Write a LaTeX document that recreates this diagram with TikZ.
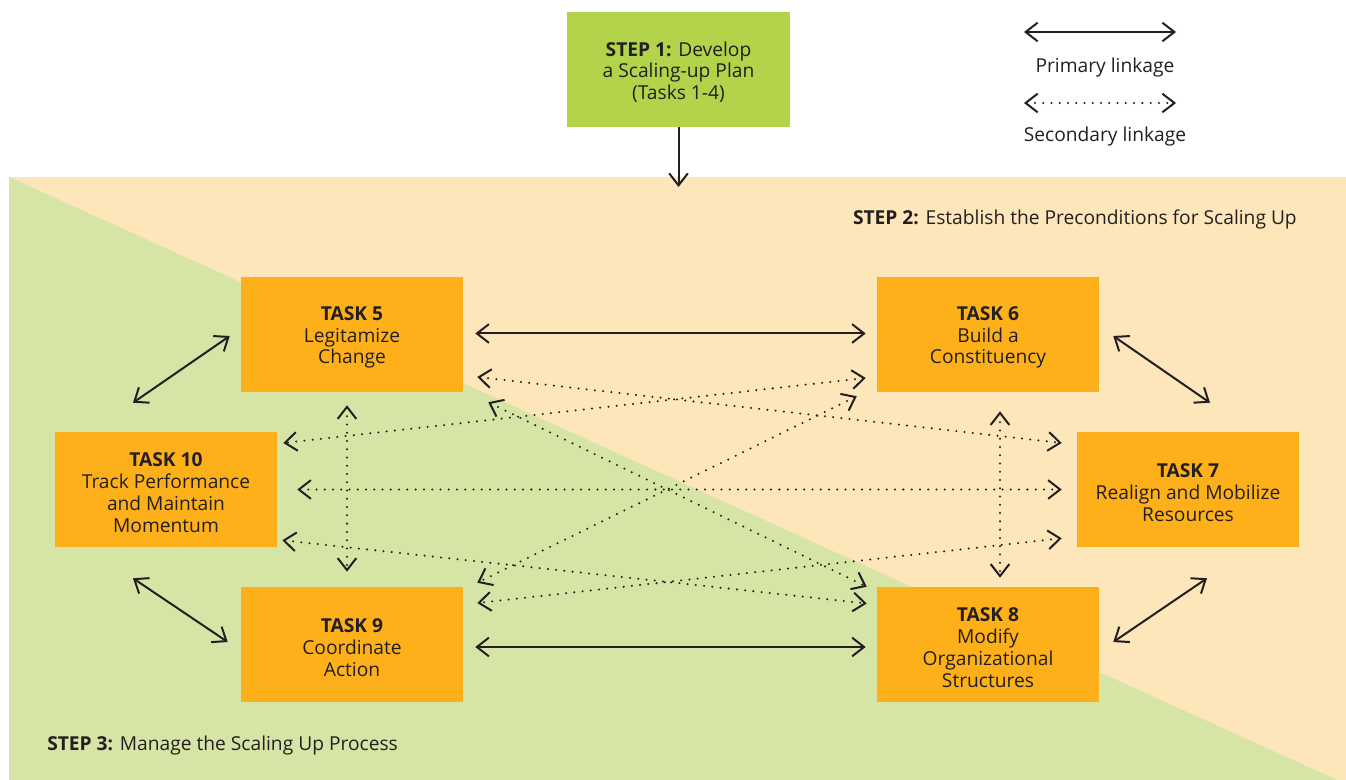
\documentclass[tikz,border=0pt]{standalone}
\usepackage{fontspec}
\setmainfont{Open Sans}
\usetikzlibrary{arrows.meta,calc}
\definecolor{ink}{HTML}{231F20}
\definecolor{taskorange}{HTML}{FDB01A}
\definecolor{stepgreen}{HTML}{B2D34A}
\definecolor{zonebeige}{HTML}{FDE7BA}
\definecolor{zonegreen}{HTML}{D6E5A6}
% extra room above the first line of a box, to sit the text a little lower
\newcommand{\toppad}{\rule{0pt}{15pt}}
\tikzset{
  barb/.tip={Straight Barb[length=9pt,width=14pt,line width=1.5pt]},
  taskbox/.style={fill=taskorange, minimum width=166.5pt, minimum height=86.25pt,
    inner sep=0pt, align=center, text=ink, font=\fontsize{14.4}{16.3}\selectfont},
  stepbox/.style={fill=stepgreen, minimum width=167pt, minimum height=86.25pt,
    inner sep=0pt, align=center, text=ink, font=\fontsize{14.4}{16.3}\selectfont},
  label/.style={text=ink, inner sep=0pt, font=\fontsize{14.4}{16}\selectfont},
  primary/.style={draw=ink, line width=1.5pt, barb-barb},
  secondary/.style={draw=ink, line width=1.7pt, line cap=round,
    dash pattern=on 0pt off 6.2pt, barb-barb},
}
\begin{document}
\begin{tikzpicture}[x=0.75pt,y=-0.75pt]
\useasboundingbox (0,0) rectangle (1346,780);
% coloured zones for steps 2 and 3
\fill[zonebeige] (9,177) rectangle (1346,780);
\fill[zonegreen] (9,177) -- (1337,780) -- (9,780) -- cycle;

% step 1 and the arrow into the zones
\node[stepbox] (step1) at (678.5,69.5) {\toppad\textbf{STEP 1:} Develop\\a Scaling-up Plan\\(Tasks 1-4)};
\coordinate (zonetop) at (678.5,187);
\draw[draw=ink, line width=1.5pt, -barb] (step1.south) -- (zonetop);

% legend
\coordinate (pa) at (1024,32);
\coordinate (pb) at (1176,32);
\coordinate (sa) at (1024,103);
\coordinate (sb) at (1176,103);
\draw[primary] (pa) -- (pb);
\draw[secondary] (sa) -- (sb);
\node[label] (plab) at (1105,68) {Primary linkage};
\node[label] (slab) at (1105,137) {Secondary linkage};

% zone titles
\node[label, anchor=east] (step2) at (1297,219) {\textbf{STEP 2:} Establish the Preconditions for Scaling Up};
\node[label, anchor=west] (step3) at (47,746) {\textbf{STEP 3:} Manage the Scaling Up Process};

% tasks
\node[taskbox] (t5) at (352,334.5) {\toppad\textbf{TASK 5}\\Legitamize\\Change};
\node[taskbox] (t6) at (988,334.5) {\toppad\textbf{TASK 6}\\Build a\\Constituency};
\node[taskbox] (t10) at (166,489.5) {\toppad\textbf{TASK 10}\\Track Performance\\and Maintain\\Momentum};
\node[taskbox] (t7) at (1188,489.5) {\toppad\textbf{TASK 7}\\Realign and Mobilize\\Resources};
\node[taskbox] (t9) at (352,644.5) {\toppad\textbf{TASK 9}\\Coordinate\\Action};
\node[taskbox] (t8) at (988,644.5) {\toppad\textbf{TASK 8}\\Modify\\Organizational\\Structures};

% primary linkages
\draw[primary] ($(t5.east)+(12,-1)$) -- ($(t6.west)+(-11,-1)$);
\draw[primary] ($(t9.east)+(12,2.5)$) -- ($(t8.west)+(-11,2.5)$);
\draw[primary] ($(t10.north)+(-33,-29)$) -- ($(t5.west)+(-11,1.5)$);
\draw[primary] ($(t10.south)+(-33,31)$) -- ($(t9.west)+(-13,-2.5)$);
\draw[primary] ($(t6.east)+(14,1.5)$) -- ($(t7.north)+(22,-29)$);
\draw[primary] ($(t8.east)+(14,-2.5)$) -- ($(t7.south)+(19,31)$);

% secondary linkages
\draw[secondary] ($(t5.east)+(14,42.5)$) -- ($(t7.west)+(-15,-46.5)$);
\draw[secondary] ($(t6.west)+(-11,43.5)$) -- ($(t10.east)+(6,-46.5)$);
\draw[secondary] ($(t5.south east)+(25,10)$) -- ($(t8.north west)+(-10,0)$);
\draw[secondary] ($(t6.south west)+(-20,4)$) -- ($(t9.north east)+(14,-4)$);
\draw[secondary] ($(t10.east)+(20,0)$) -- ($(t7.west)+(-15,0)$);
\draw[secondary] ($(t10.south east)+(5,-7)$) -- ($(t8.west)+(-10,-41)$);
\draw[secondary] ($(t7.south west)+(-15,-9)$) -- ($(t9.east)+(14,-41.5)$);
\draw[secondary] ($(t5.south)+(-5,13)$) -- ($(t9.north)+(-5,-15)$);
\draw[secondary] ($(t6.south)+(12,19)$) -- ($(t8.north)+(12,-9)$);
\end{tikzpicture}
\end{document}
